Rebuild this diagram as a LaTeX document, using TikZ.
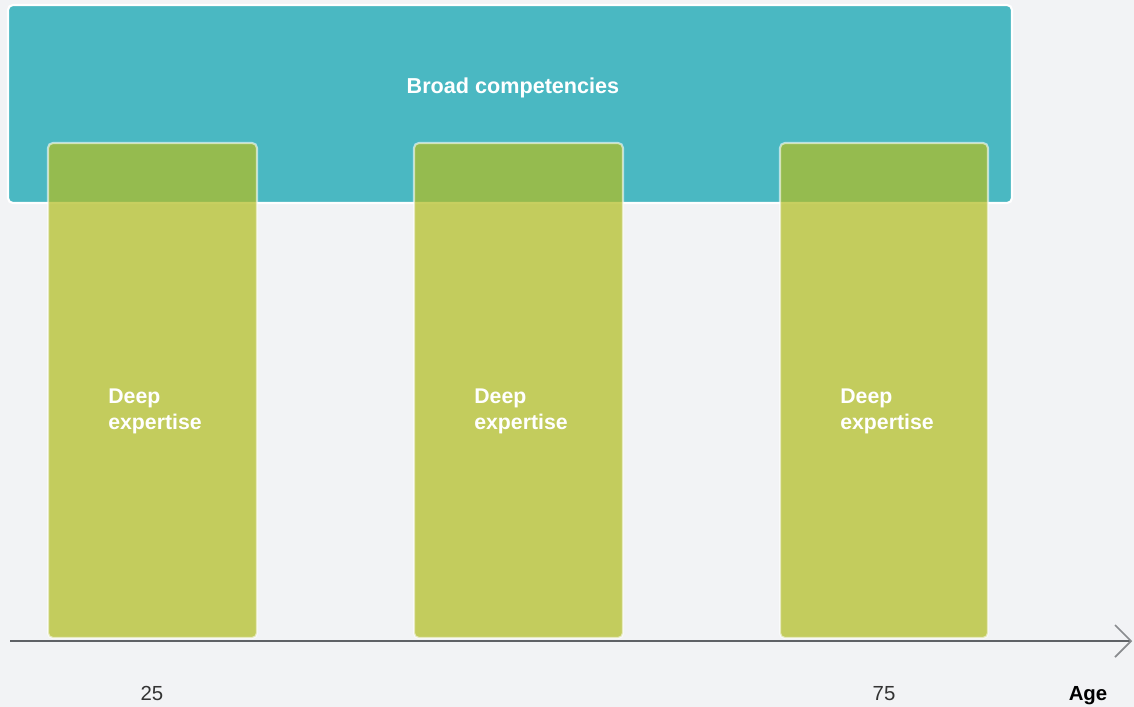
\documentclass[tikz,border=0pt]{standalone}
\usepackage{fontspec}
\setmainfont{Liberation Sans}

\definecolor{bgGray}{HTML}{F2F3F5}
\definecolor{broadTeal}{HTML}{4AB8C2}
\definecolor{deepGreen}{RGB}{178,189,35}
\definecolor{axisGray}{HTML}{5F6266}
\definecolor{tipGray}{HTML}{8A8C8F}
\definecolor{tickGray}{HTML}{333333}

\begin{document}
\begin{tikzpicture}[x=0.02cm,y=-0.02cm,
    broadbox/.style={fill=broadTeal,draw=white,line width=1.2pt,rounded corners=2.8pt},
    deepbox/.style={fill=deepGreen,fill opacity=0.72,draw=white,draw opacity=0.6,line width=1.2pt,rounded corners=2.8pt},
    boxtext/.style={text=white,font=\bfseries\fontsize{12.1}{14.7}\selectfont,inner sep=0pt},
    ticktext/.style={text=tickGray,font=\fontsize{11.6}{14}\selectfont,inner sep=0pt}]
			\fill[bgGray] (0,0) rectangle (1134,707); % background
			\useasboundingbox (0,0) rectangle (1134,707);
  			\draw[broadbox] (8,5) rectangle (1012,203); % Broad band
  			\draw[deepbox] (48,143) rectangle (257,638); % Column 1
  			\draw[deepbox] (414,143) rectangle (623,638); % Column 2
  			\draw[deepbox] (780,143) rectangle (988,638); % Column 3
  			\node[boxtext,anchor=base,font=\bfseries\fontsize{12.3}{14.7}\selectfont] (broad) at (513,93) {Broad competencies}; % Label for band
  			\node[boxtext,anchor=base west,align=left] (deep1) at (108,429) {Deep\\expertise}; % Label for column 1
  			\node[boxtext,anchor=base west,align=left] (deep2) at (474,429) {Deep\\expertise}; % Label for column 2
  			\node[boxtext,anchor=base west,align=left] (deep3) at (840,429) {Deep\\expertise}; % Label for column 3
  			\coordinate (axisstart) at (10,641);
  			\coordinate (axisend) at (1131,641);
  			\draw[axisGray,line width=1.5pt] (axisstart) -- (axisend); % Age axis
  			\draw[tipGray,line width=1pt] (1115,625) -- (axisend) -- (1115,657); % Arrow tip
  			\node[ticktext,anchor=base] (age25) at (152,700) {25}; % Tick 25
  			\node[ticktext,anchor=base] (age75) at (884,700) {75}; % Tick 75
  			\node[ticktext,anchor=base,text=black,font=\bfseries\fontsize{11.6}{14}\selectfont] (agelabel) at (1088,700) {Age}; % Axis label
		\end{tikzpicture}
\end{document}
